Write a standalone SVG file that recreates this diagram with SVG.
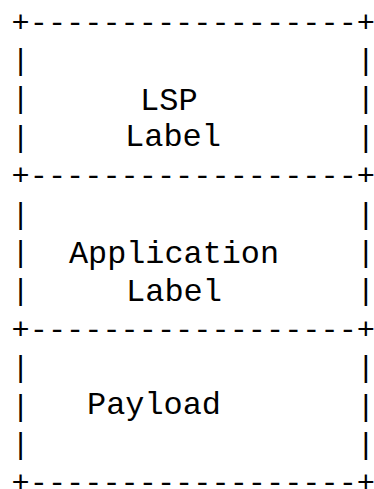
<svg xmlns="http://www.w3.org/2000/svg" width="374" height="489" viewBox="0 0 374 489">
<style>
text{font-family:"Liberation Mono","DejaVu Sans Mono",monospace;fill:#000;white-space:pre}
.b{font-size:30.3px}
.w{font-size:32px}
</style>
<defs>
<text id="pl" class="b" x="11.6">|</text>
<text id="pr" class="b" x="356.8">|</text>
</defs>
<rect width="374" height="489" fill="#fff"/>
<g id="connectors"></g>
<g id="lsp-label">
<text class="b" x="11.6" y="31.5" textLength="363.4" lengthAdjust="spacing" xml:space="preserve">+------------------+</text>
<use href="#pl" y="69.9"/><use href="#pr" y="69.9"/>
<use href="#pl" y="108.3"/><use href="#pr" y="108.3"/>
<use href="#pl" y="146.7"/><use href="#pr" y="146.7"/>
<text class="w" x="140" y="109.5" textLength="57.6" lengthAdjust="spacingAndGlyphs">LSP</text>
<text class="w" x="125" y="146" textLength="96" lengthAdjust="spacingAndGlyphs">Label</text>
</g>
<g id="application-label">
<text class="b" x="11.6" y="185.1" textLength="363.4" lengthAdjust="spacing" xml:space="preserve">+------------------+</text>
<use href="#pl" y="223.5"/><use href="#pr" y="223.5"/>
<use href="#pl" y="261.9"/><use href="#pr" y="261.9"/>
<use href="#pl" y="300.3"/><use href="#pr" y="300.3"/>
<text class="w" x="69" y="263" textLength="210" lengthAdjust="spacingAndGlyphs">Application</text>
<text class="w" x="126" y="300.5" textLength="96" lengthAdjust="spacingAndGlyphs">Label</text>
</g>
<g id="payload">
<text class="b" x="11.6" y="338.7" textLength="363.4" lengthAdjust="spacing" xml:space="preserve">+------------------+</text>
<use href="#pl" y="377.1"/><use href="#pr" y="377.1"/>
<use href="#pl" y="415.5"/><use href="#pr" y="415.5"/>
<use href="#pl" y="453.9"/><use href="#pr" y="453.9"/>
<text class="w" x="87" y="414" textLength="134" lengthAdjust="spacingAndGlyphs">Payload</text>
<text class="b" x="11.6" y="492.3" textLength="363.4" lengthAdjust="spacing" xml:space="preserve">+------------------+</text>
</g>
</svg>
